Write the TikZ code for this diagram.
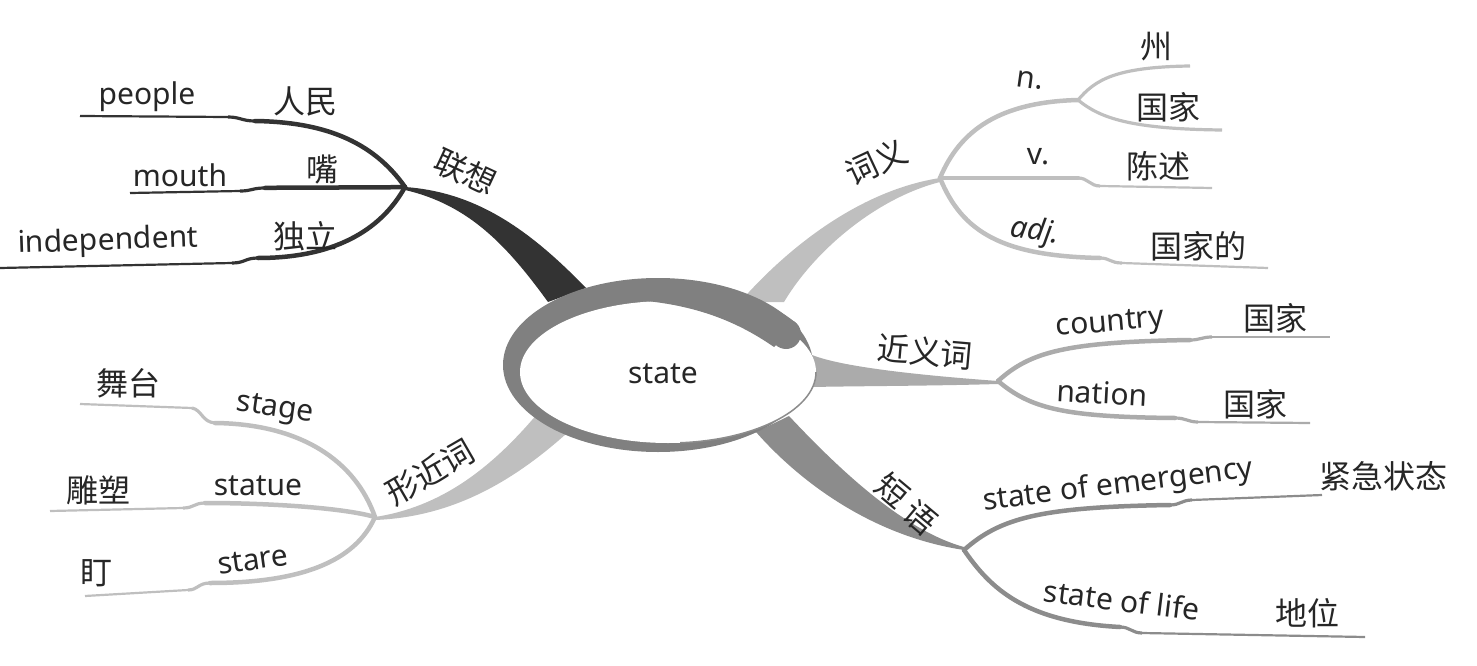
\documentclass[tikz,border=0pt]{standalone}
\usepackage{fontspec}
\setmainfont{Noto Sans}
\newfontfamily\cjk{Noto Sans CJK SC}
\begin{document}
\begin{tikzpicture}[x=1pt,y=-1pt,
  lat/.style={inner sep=0pt,font=\fontsize{30}{34}\selectfont,text=black!85},
  zh/.style={inner sep=0pt,font=\cjk\fontsize{32}{36}\selectfont,text=black!85},
  ringc/.style={fill=black!50},
  darkc/.style={draw=black!80},
  lightc/.style={draw=black!25},
  midc/.style={draw=black!33},
  deepc/.style={draw=black!45},
  thick1/.style={line width=4.5pt,line cap=round},
  thin1/.style={line width=2.2pt,line cap=butt},
  stepl/.style={line width=3.2pt}]
\useasboundingbox (0,0) rectangle (1477,666);
% ---------- hubs ----------
\coordinate (L) at (405,187);
\coordinate (R) at (940,178);
\coordinate (N) at (1078,100);
\coordinate (S) at (998,381);
\coordinate (P) at (964,550);
\coordinate (Q) at (375,517);
% ---------- main tapered branches ----------
\fill[black!80] (L) .. controls (475,192) and (528,228) .. (586,288) -- (548,302) .. controls (508,247) and (470,205) .. (405,190) -- cycle;
\fill[black!25] (740,302) .. controls (790,245) and (862,190) .. (R) -- (940,182) .. controls (877,198) and (815,250) .. (784,302) -- cycle;
\fill[black!33] (812,355) .. controls (845,368) and (930,376) .. (S) -- (998,384) .. controls (930,386) and (860,386) .. (812,387) -- cycle;
\fill[black!45] (756,432) .. controls (800,482) and (872,536) .. (P) -- (964,547) .. controls (902,530) and (836,466) .. (789,416) -- cycle;
\fill[black!25] (538,413) .. controls (490,470) and (440,507) .. (Q) -- (375,520) .. controls (452,517) and (512,482) .. (566,434) -- cycle;
% ---------- central ellipse ----------
\fill[ringc] (658,365) ellipse [x radius=155, y radius=87];
\fill[white] (668,372) ellipse [x radius=148, y radius=71];
\begin{scope}
\clip (680,372) rectangle (830,460);
\draw[black!45,line width=1.5pt] (668,372) ellipse [x radius=148, y radius=71];
\end{scope}
\fill[ringc] (620,299) .. controls (690,302) and (735,320) .. (774,347) -- (797,324) .. controls (770,300) and (720,284) .. (620,281) -- cycle;
\fill[ringc] (786,334) circle [radius=15];
\node[lat] (state) at (663,374) {state};
% ---------- 联想 ----------
\coordinate (l1a) at (255,121); \coordinate (l1b) at (228,117); \coordinate (l1e) at (80,116);
\coordinate (l2a) at (265,188); \coordinate (l2b) at (240,191); \coordinate (l2e) at (130,193);
\coordinate (l3a) at (258,258); \coordinate (l3b) at (232,263); \coordinate (l3e) at (0,268);
\draw[darkc,thick1] (L) .. controls (372,140) and (322,122) .. (l1a);
\draw[darkc,stepl] (l1a) .. controls (242,121) and (240,117) .. (l1b);
\draw[darkc,thin1] (l1b) -- (l1e);
\draw[darkc,thick1] (L) .. controls (360,188) and (300,187) .. (l2a);
\draw[darkc,stepl] (l2a) .. controls (252,188) and (252,191) .. (l2b);
\draw[darkc,thin1] (l2b) -- (l2e);
\draw[darkc,thick1] (L) .. controls (380,232) and (332,258) .. (l3a);
\draw[darkc,stepl] (l3a) .. controls (245,258) and (245,263) .. (l3b);
\draw[darkc,thin1] (l3b) -- (l3e);
\node[zh,rotate=-25] (lx) at (466,172) {联想};
\node[lat] (people) at (147,97) {people};
\node[zh] (renmin) at (305,101) {人民};
\node[lat] (mouth) at (180,175) {mouth};
\node[zh] (zui) at (322,170) {嘴};
\node[lat,rotate=2] (indep) at (108,242) {independent};
\node[zh] (duli) at (305,236) {独立};
% ---------- 词义 ----------
\coordinate (r2a) at (1078,178); \coordinate (r2b) at (1100,186); \coordinate (r2e) at (1212,188);
\coordinate (r3a) at (1100,258); \coordinate (r3b) at (1122,263); \coordinate (r3e) at (1268,268);
\coordinate (n1e) at (1190,66); \coordinate (n2e) at (1222,130);
\draw[lightc,thick1] (R) .. controls (960,130) and (1000,102) .. (N);
\draw[lightc,stepl] (N) .. controls (1095,80) and (1115,67) .. (n1e);
\draw[lightc,stepl] (N) .. controls (1100,118) and (1130,129) .. (n2e);
\draw[lightc,thick1] (R) -- (r2a);
\draw[lightc,stepl] (r2a) .. controls (1088,178) and (1090,186) .. (r2b);
\draw[lightc,thin1] (r2b) -- (r2e);
\draw[lightc,thick1] (R) .. controls (962,232) and (1002,256) .. (r3a);
\draw[lightc,stepl] (r3a) .. controls (1110,258) and (1110,263) .. (r3b);
\draw[lightc,thin1] (r3b) -- (r3e);
\node[zh,rotate=25] (cy) at (876,162) {词义};
\node[lat,rotate=-8] (n) at (1030,80) {n.};
\node[zh] (zhou) at (1156,47) {州};
\node[zh] (guojia1) at (1168,107) {国家};
\node[lat] (v) at (1038,157) {v.};
\node[zh] (chenshu) at (1158,166) {陈述};
\node[lat,rotate=-8] (adj) at (1035,232) {\itshape adj.};
\node[zh] (guojiade) at (1198,246) {国家的};
% ---------- 近义词 ----------
\coordinate (s1a) at (1190,340); \coordinate (s1b) at (1212,337); \coordinate (s1e) at (1330,337);
\coordinate (s2a) at (1175,418); \coordinate (s2b) at (1198,422); \coordinate (s2e) at (1310,423);
\draw[midc,thick1] (S) .. controls (1030,352) and (1065,342) .. (s1a);
\draw[midc,stepl] (s1a) .. controls (1200,340) and (1202,337) .. (s1b);
\draw[midc,thin1] (s1b) -- (s1e);
\draw[midc,thick1] (S) .. controls (1030,408) and (1062,417) .. (s2a);
\draw[midc,stepl] (s2a) .. controls (1186,418) and (1188,422) .. (s2b);
\draw[midc,thin1] (s2b) -- (s2e);
\node[zh,rotate=-5] (jyc) at (925,352) {近义词};
\node[lat,rotate=5] (country) at (1110,325) {country};
\node[zh] (guojia2) at (1275,318) {国家};
\node[lat,rotate=-3] (nation) at (1102,393) {nation};
\node[zh] (guojia3) at (1255,404) {国家};
% ---------- 短语 ----------
\coordinate (p1a) at (1170,505); \coordinate (p1b) at (1192,500); \coordinate (p1e) at (1322,495);
\coordinate (p2a) at (1120,627); \coordinate (p2b) at (1142,633); \coordinate (p2e) at (1365,637);
\draw[deepc,thick1] (P) .. controls (1000,518) and (1040,507) .. (p1a);
\draw[deepc,stepl] (p1a) .. controls (1180,505) and (1182,500) .. (p1b);
\draw[deepc,thin1] (p1b) -- (p1e);
\draw[deepc,thick1] (P) .. controls (990,588) and (1025,622) .. (p2a);
\draw[deepc,stepl] (p2a) .. controls (1130,627) and (1132,633) .. (p2b);
\draw[deepc,thin1] (p2b) -- (p2e);
\node[zh,rotate=-40] (duan) at (893,490) {短};
\node[zh,rotate=-40] (yu) at (920,518) {语};
\node[lat,rotate=7] (soe) at (1118,486) {state of emergency};
\node[zh] (jinji) at (1383,476) {紧急状态};
\node[lat,rotate=-7] (sol) at (1122,600) {state of life};
\node[zh] (diwei) at (1307,613) {地位};
% ---------- 形近词 ----------
\coordinate (q1a) at (215,423); \coordinate (q1b) at (192,408); \coordinate (q1e) at (80,404);
\coordinate (q2a) at (205,503); \coordinate (q2b) at (183,508); \coordinate (q2e) at (50,511);
\coordinate (q3a) at (210,583); \coordinate (q3b) at (188,590); \coordinate (q3e) at (85,596);
\draw[lightc,thick1] (Q) .. controls (355,460) and (300,424) .. (q1a);
\draw[lightc,stepl] (q1a) .. controls (202,422) and (202,410) .. (q1b);
\draw[lightc,thin1] (q1b) -- (q1e);
\draw[lightc,thick1] (Q) .. controls (340,507) and (262,503) .. (q2a);
\draw[lightc,stepl] (q2a) .. controls (194,503) and (194,508) .. (q2b);
\draw[lightc,thin1] (q2b) -- (q2e);
\draw[lightc,thick1] (Q) .. controls (355,562) and (300,583) .. (q3a);
\draw[lightc,stepl] (q3a) .. controls (198,583) and (198,590) .. (q3b);
\draw[lightc,thin1] (q3b) -- (q3e);
\node[zh,rotate=30] (xjc) at (430,472) {形近词};
\node[zh] (wutai) at (128,383) {舞台};
\node[lat,rotate=-8] (stage) at (275,410) {stage};
\node[zh] (diaosu) at (98,490) {雕塑};
\node[lat] (statue) at (258,486) {statue};
\node[zh] (ding) at (96,573) {盯};
\node[lat,rotate=8] (stare) at (253,560) {stare};
\end{tikzpicture}
\end{document}
